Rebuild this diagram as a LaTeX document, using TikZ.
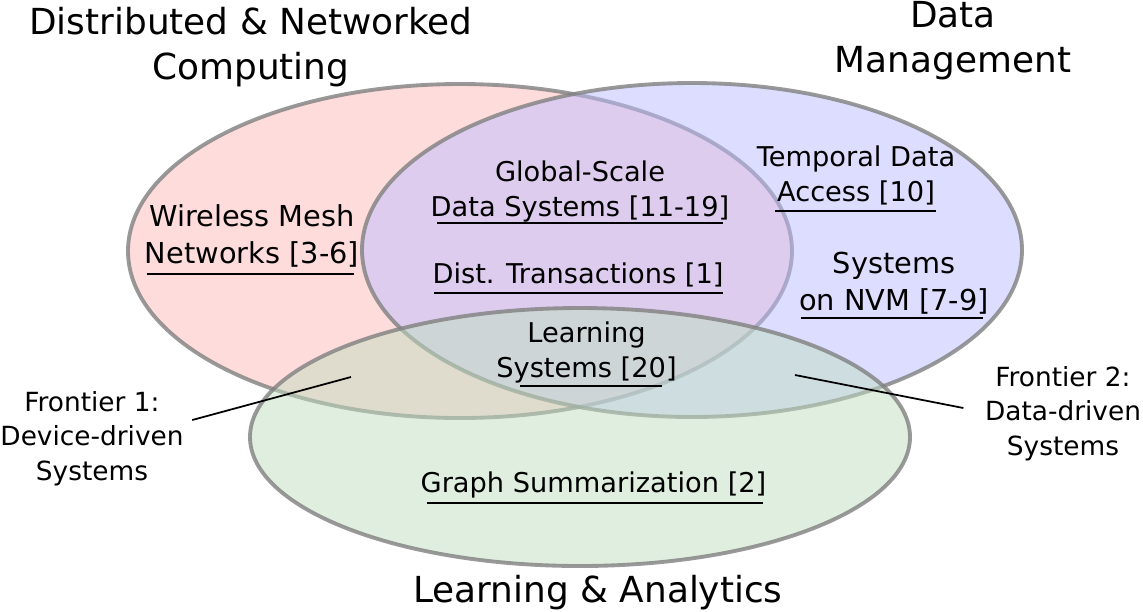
\documentclass[tikz,border=0pt]{standalone}
\usepackage{fontspec}
\setmainfont{DejaVu Sans}
\usetikzlibrary{positioning}

\definecolor{setred}{RGB}{255,185,185}
\definecolor{setblue}{RGB}{188,188,255}
\definecolor{setgreen}{RGB}{192,222,192}

\begin{document}
\begin{tikzpicture}[set/.style={draw=gray, draw opacity=0.8, line width=1.1pt, fill opacity=0.5},
        title/.style={align=center, inner sep=0pt, anchor=base, font=\fontsize{10.2}{12.8}\selectfont},
        topic/.style={align=center, inner sep=0pt, anchor=base, font=\fontsize{7.75}{9.7}\selectfont},
        bigtopic/.style={topic, font=\fontsize{8.2}{10.5}\selectfont},
        frontier/.style={align=center, inner sep=0pt, anchor=base, font=\fontsize{7.5}{9.7}\selectfont},
        uline/.style={line width=0.6pt}, pointer/.style={line width=0.5pt}]

        \useasboundingbox (0,0) rectangle (11.43,-6.11);

        \draw[set, fill=setred] (4.60,-2.51) ellipse [x radius=3.32, y radius=1.67];
        \draw[set, fill=setblue] (6.92,-2.50) ellipse [x radius=3.30, y radius=1.67];
        \draw[set, fill=setgreen] (5.80,-4.37) ellipse [x radius=3.30, y radius=1.29];

        % anchors sit on the baseline of the last line
        \node[title] (dnc) at (2.51,-0.79) {Distributed \& Networked\\Computing};
        \node[title] (dm) at (9.53,-0.72) {Data\\Management};
        \node[title] (la) at (5.98,-6.02) {Learning \& Analytics};

        \node[bigtopic] (wmn) at (2.52,-2.63) {Wireless Mesh\\Networks [3-6]};
        \node[topic] (gsd) at (5.80,-2.16) {Global-Scale\\Data Systems [11-19]};
        \node[topic] (dt) at (5.78,-2.83) {Dist. Transactions [1]};
        \node[topic] (tda) at (8.56,-2.01) {Temporal Data\\Access [10]};
        \node[bigtopic] (nvm) at (8.94,-3.10) {Systems\\on NVM [7-9]};
        \node[topic] (ls) at (5.865,-3.77) {Learning\\Systems [20]};
        \node[topic] (gs) at (5.935,-4.92) {Graph Summarization [2]};

        \node[frontier] (f1) at (0.92,-4.80) {Frontier 1:\\Device-driven\\Systems};
        \node[frontier] (f2) at (10.63,-4.55) {Frontier 2:\\Data-driven\\Systems};

        \coordinate (p1) at (3.51,-3.77);
        \coordinate (p2) at (7.95,-3.75);

        \draw[uline] (1.47,-2.74) -- (3.54,-2.74);
        \draw[uline] (4.37,-2.23) -- (7.23,-2.23);
        \draw[uline] (4.34,-2.93) -- (7.23,-2.93);
        \draw[uline] (7.75,-2.11) -- (9.36,-2.11);
        \draw[uline] (8.01,-3.18) -- (9.83,-3.18);
        \draw[uline] (5.20,-3.86) -- (6.62,-3.86);
        \draw[uline] (4.27,-5.03) -- (7.63,-5.03);

        \draw[pointer] ([shift={(0.08,0.60)}]f1.base east) -- (p1);
        \draw[pointer] ([shift={(-0.21,0.47)}]f2.base west) -- (p2);

    \end{tikzpicture}
\end{document}
